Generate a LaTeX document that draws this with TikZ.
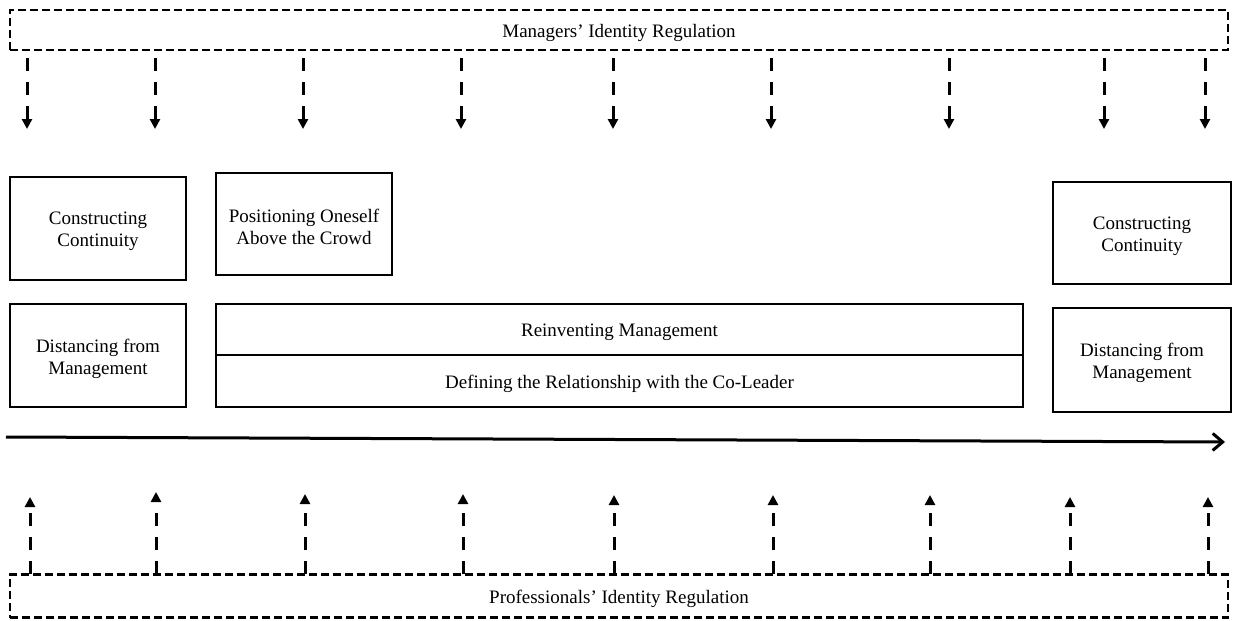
\documentclass[tikz,border=0pt]{standalone}
\usepackage{fontspec}
\setmainfont{Liberation Serif}
\usetikzlibrary{arrows.meta}
\begin{document}
\begin{tikzpicture}[x=0.5pt,y=-0.5pt,
  every node/.style={inner sep=0pt},
  txt/.style={font=\fontsize{9.5}{11}\selectfont, align=center, yshift=-1.6pt},
  regbox/.style={draw, line width=1.05pt, dash pattern=on 4pt off 2pt},
  themebox/.style={draw, line width=1pt},
  influence/.style={line width=1.5pt, dash pattern=on 6.5pt off 5.5pt, -{Triangle[length=5pt,width=5pt]}},
  timeline/.style={line width=1.5pt, -{Straight Barb[length=5pt,width=8.5pt,line width=1.5pt]}}]
\useasboundingbox (0,0) rectangle (1239,621);

% regulation frames
\node[regbox, minimum width=609pt, minimum height=20pt] (mgr) at (619,30) {};
\node[txt] (mgrtxt) at (mgr.center) {Managers’ Identity Regulation};
\node[regbox, minimum width=609pt, minimum height=21.5pt] (prof) at (619,596) {};
\node[txt] (proftxt) at (prof.center) {Professionals’ Identity Regulation};

% identity-work themes
\node[themebox, minimum width=88pt, minimum height=51.5pt] (cc1) at (98,228.5) {};
\node[txt] (cc1txt) at (cc1.center) {Constructing\\Continuity};
\node[themebox, minimum width=88pt, minimum height=51pt] (pos) at (304,224) {};
\node[txt] (postxt) at (pos.center) {Positioning Oneself\\Above the Crowd};
\node[themebox, minimum width=88pt, minimum height=51.5pt] (dm1) at (98,355.5) {};
\node[txt] (dm1txt) at (dm1.center) {Distancing from\\Management};
\node[themebox, minimum width=403.5pt, minimum height=25.5pt] (reinv) at (619.5,329.5) {};
\node[txt] (reinvtxt) at (reinv.center) {Reinventing Management};
\node[themebox, minimum width=403.5pt, minimum height=26pt] (coled) at (619.5,381) {};
\node[txt] (coledtxt) at (coled.center) {Defining the Relationship with the Co-Leader};
\node[themebox, minimum width=89pt, minimum height=51pt] (cc2) at (1142,233) {};
\node[txt] (cc2txt) at (cc2.center) {Constructing\\Continuity};
\node[themebox, minimum width=89pt, minimum height=52pt] (dm2) at (1142,360) {};
\node[txt] (dm2txt) at (dm2.center) {Distancing from\\Management};

% time axis
\coordinate (t0) at (6,437);
\coordinate (t1) at (1225,442);
\draw[timeline] (t0) -- (t1);

% managers' regulation pressing down
\foreach \x [count=\i] in {27,155,303,461,613,771,949,1104,1205}{
  \coordinate (ms\i) at (\x,58);
  \coordinate (md\i) at (\x,129);
  \draw[influence] (ms\i) -- (md\i);
}

% professionals' regulation pressing up
\foreach \x/\y [count=\i] in {30/497,156/492,305/494,463/494,614/495,773/495,930/495,1070/497,1208/497}{
  \coordinate (ps\i) at (\x,574);
  \coordinate (pu\i) at (\x,\y);
  \draw[influence] (ps\i) -- (pu\i);
}
\end{tikzpicture}
\end{document}
